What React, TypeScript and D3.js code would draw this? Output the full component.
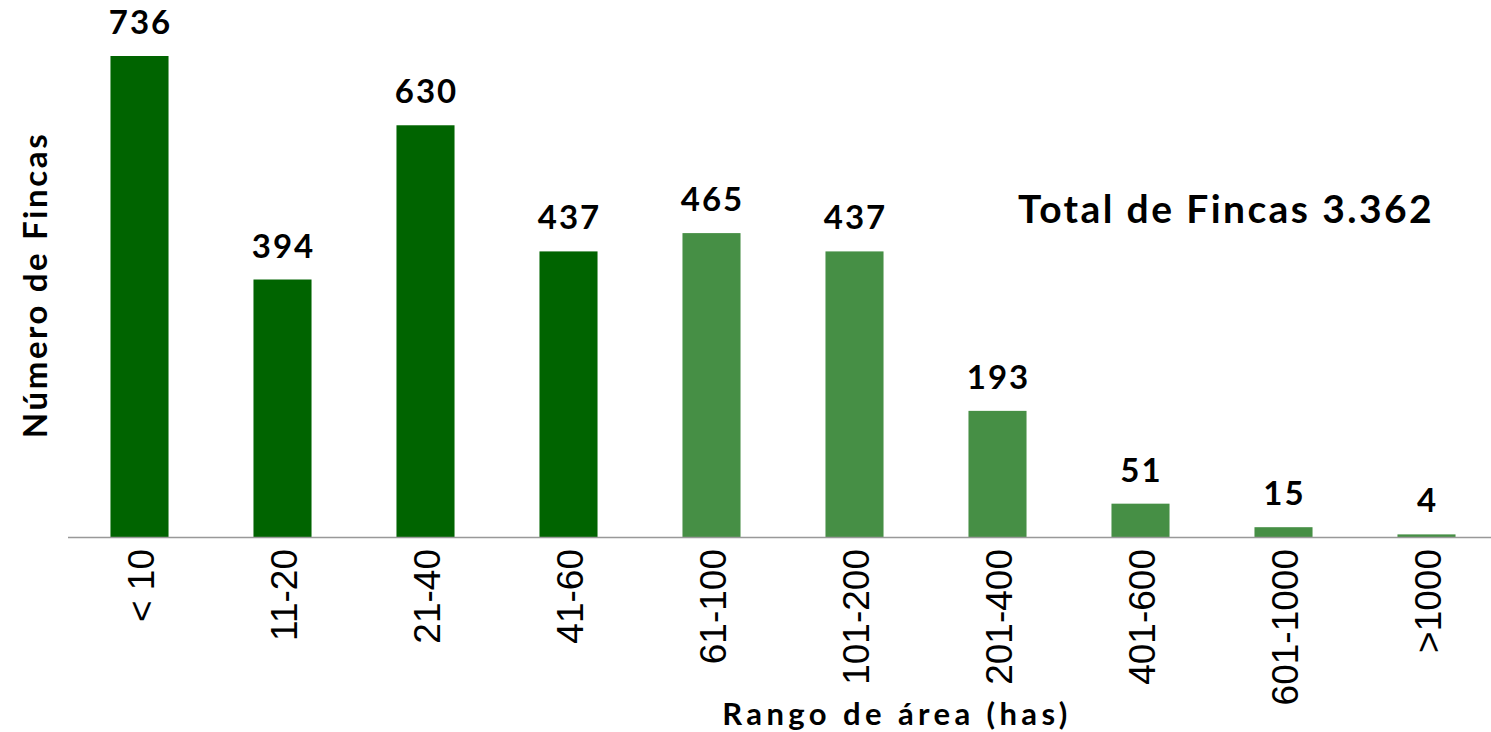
import React from "react";
import * as d3 from "d3";

const categories = ["< 10", "11-20", "21-40", "41-60", "61-100", "101-200", "201-400", "401-600", "601-1000", ">1000"];
const values = [736, 394, 630, 437, 465, 437, 193, 51, 15, 4];
const colorGroup = ["dark", "dark", "dark", "dark", "light", "light", "light", "light", "light", "light"];
const colors: Record<string, string> = { dark: "#006400", light: "#468F45" };
const yTitle = "Número de Fincas";
const xTitle = "Rango de área (has)";
const note = "Total de Fincas 3.362";

const W = 1491;
const H = 732;

export default function App() {
  const x = d3.scaleBand<string>().domain(categories).range([68, 68 + 143 * 10]).paddingInner(0.594).paddingOuter(0.297);
  const y = d3.scaleLinear().domain([0, 736]).range([537, 56]);
  const bold = "Lato, 'Open Sans', sans-serif";
  return (
    <svg width={W} height={H} style={{ position: "absolute", left: 0, top: 0, display: "block" }}>
      <rect width={W} height={H} fill="#fff" />
      {categories.map((c, i) => (
        <rect key={c} x={x(c)} y={y(values[i])} width={x.bandwidth()} height={y(0) - y(values[i])} fill={colors[colorGroup[i]]} />
      ))}
      <line x1={68} x2={W} y1={y(0) + 0.5} y2={y(0) + 0.5} stroke="#999" strokeWidth={1.5} />
      {categories.map((c, i) => (
        <text key={"v" + c} x={(x(c) as number) + x.bandwidth() / 2 + 1} y={y(values[i]) - 22} textAnchor="middle"
          fontFamily={bold} fontWeight="bold" fontSize={33} letterSpacing={2} fill="#000">{values[i]}</text>
      ))}
      {categories.map((c) => (
        <text key={"t" + c} transform={`translate(${(x(c) as number) + x.bandwidth() / 2 + 14},549) rotate(-90)`}
          textAnchor="end" fontFamily="'Liberation Sans', Arial, sans-serif" fontSize={37} fill="#000">{c}</text>
      ))}
      <text transform="translate(47,285) rotate(-90)" textAnchor="middle" fontFamily={bold} fontWeight="bold" fontSize={33} letterSpacing={2.6} fill="#000">{yTitle}</text>
      <text x={897} y={725} textAnchor="middle" fontFamily={bold} fontWeight="bold" fontSize={31} letterSpacing={4.4} fill="#000">{xTitle}</text>
      <text x={1226} y={223} textAnchor="middle" fontFamily={bold} fontWeight="bold" fontSize={39} letterSpacing={2.4} fill="#000">{note}</text>
    </svg>
  );
}
